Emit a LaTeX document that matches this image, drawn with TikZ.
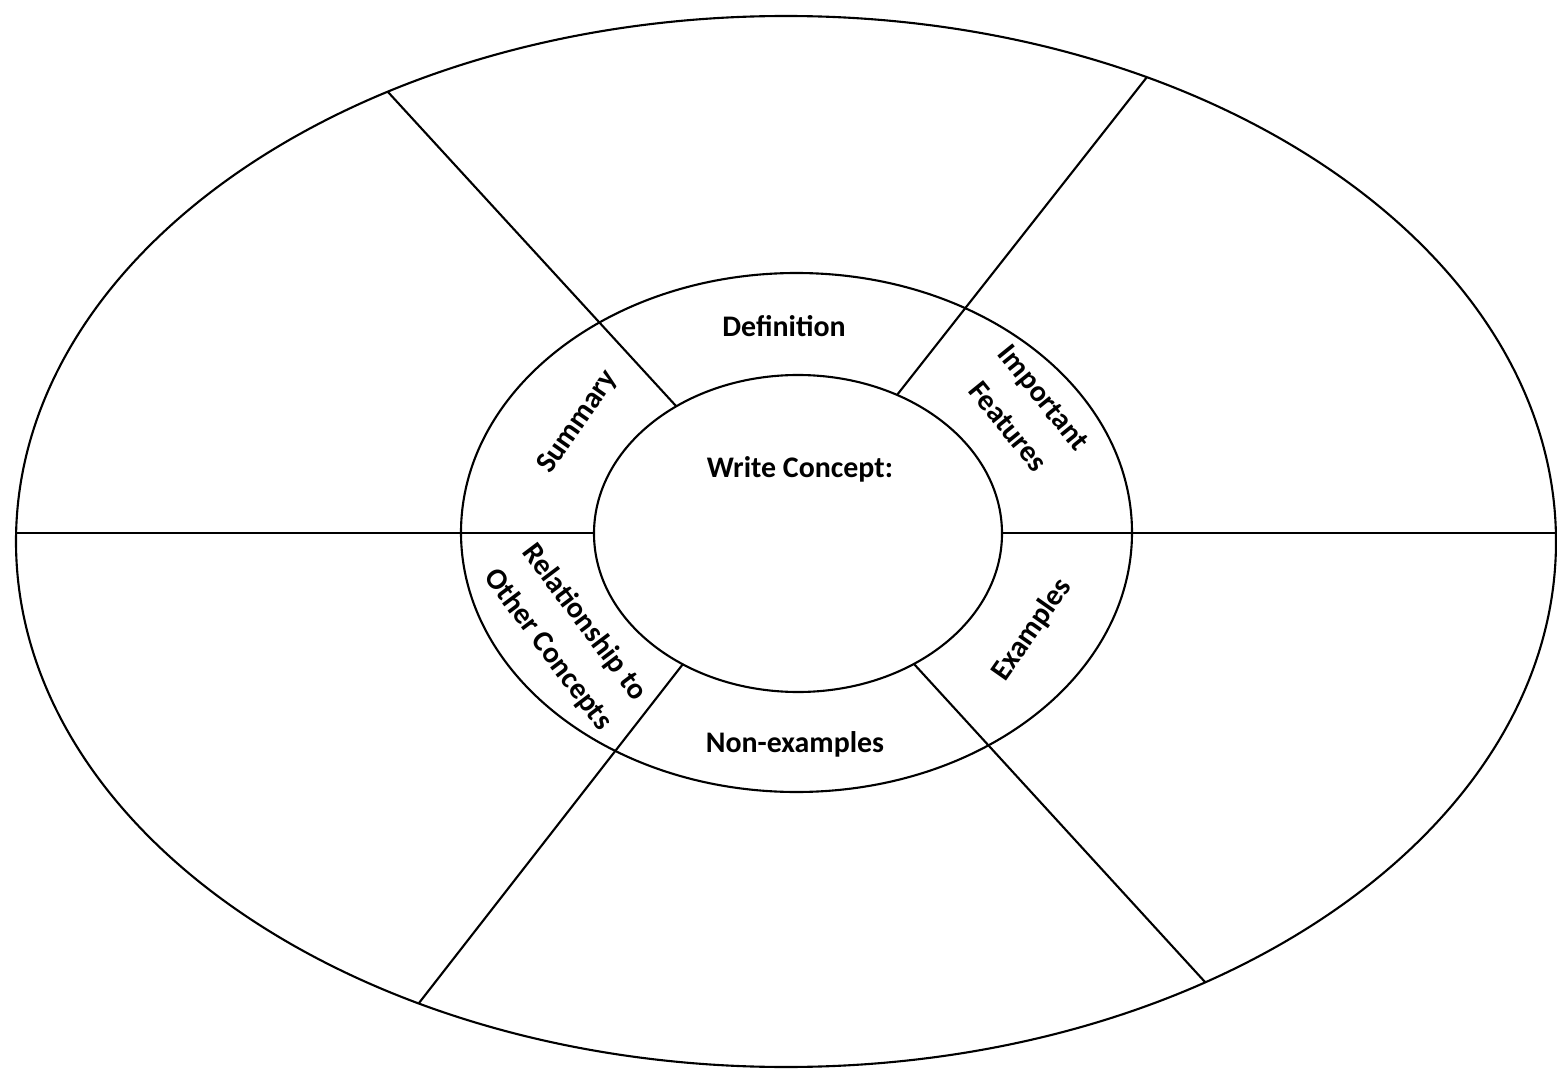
\documentclass[tikz,border=0pt]{standalone}
\usepackage{fontspec}
\setmainfont{Carlito}
\tikzset{lbl/.style={font=\bfseries\fontsize{8.5}{13}\selectfont, inner sep=0pt, align=center}}

\begin{document}
\begin{tikzpicture}[x=0.01cm, y=-0.01cm, line width=0.6pt]
\useasboundingbox (0,0) rectangle (1557,1070);

\draw [] (786,541.5) ellipse [x radius=770, y radius=525.5];
\draw [] (796.5,532.5) ellipse [x radius=335.5, y radius=259.5];
\draw [] (798,533.5) ellipse [x radius=204, y radius=158.5];

\draw [] (16,533) -- (594,533);
\draw [] (1002,533) -- (1556,533);

\draw [] (388,92) -- (676,406);
\draw [] (1147,77) -- (897,395);
\draw [] (419,1003) -- (683,664);
\draw [] (1205,982) -- (914,664);

\node [lbl] (definition) at (784,326) {Definition};
\node [lbl] (concept) at (800,469) {Write Concept:};
\node [lbl] (nonexamples) at (795,744) {Non-examples};

\node [lbl, rotate=55] (summary) at (578,422) {Summary};
\node [lbl, rotate=-51] (features) at (1026,412) {Important\\Features};
\node [lbl, rotate=55] (examples) at (1032,630) {Examples};
\node [lbl, rotate=-53] (relation) at (566,636) {Relationship to\\Other Concepts};

\end{tikzpicture}
\end{document}
